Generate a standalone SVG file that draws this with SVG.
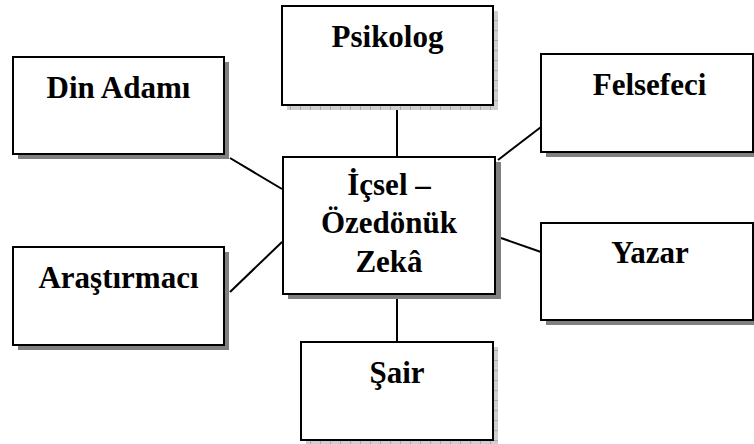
<svg xmlns="http://www.w3.org/2000/svg" width="754" height="444" viewBox="0 0 754 444">
  <defs>
    <!-- textured light-gray shadow used by the top and bottom boxes -->
    <pattern id="grain" width="10" height="10" patternUnits="userSpaceOnUse">
      <rect width="10" height="10" fill="#cfcfcf"/>
      <path d="M0 0.5H10M0.5 0V10" stroke="#a9a9a9" stroke-width="1"/>
    </pattern>
  </defs>

  <rect width="754" height="444" fill="#ffffff"/>

  <g id="connectors" stroke="#000000" stroke-width="2" fill="none">
    <line x1="397" y1="105" x2="397" y2="157"/>
    <line x1="230" y1="158" x2="282" y2="189"/>
    <line x1="230" y1="292" x2="282" y2="242"/>
    <line x1="498" y1="160" x2="541" y2="127"/>
    <line x1="501" y1="238" x2="541" y2="252"/>
    <line x1="397" y1="294" x2="397" y2="342"/>
  </g>

  <g style="font-family: 'Liberation Serif', 'Times New Roman', Times, serif; font-weight: bold; font-size: 31px;" text-anchor="middle" fill="#000000">
    <g id="psikolog">
      <path d="M493 11H498V110H287V105H493Z" fill="url(#grain)"/>
      <rect x="282" y="6" width="211" height="99" fill="#ffffff" stroke="#000000" stroke-width="2"/>
      <text x="387.5" y="47">Psikolog</text>
    </g>

    <g id="din-adami">
      <path d="M224 62H229V159H18V154H224Z" fill="#808080"/>
      <rect x="13" y="57" width="211" height="97" fill="#ffffff" stroke="#000000" stroke-width="2"/>
      <text x="118.5" y="98">Din Adamı</text>
    </g>

    <g id="felsefeci">
      <path d="M546 152H758V157H546Z" fill="#808080"/>
      <rect x="541" y="54" width="212" height="98" fill="#ffffff" stroke="#000000" stroke-width="2"/>
      <text x="649.5" y="95">Felsefeci</text>
    </g>

    <g id="icsel-ozedonuk-zeka">
      <path d="M495 162H501V299H288V294H495Z" fill="#808080"/>
      <rect x="283" y="157" width="212" height="137" fill="#ffffff" stroke="#000000" stroke-width="2"/>
      <text x="389" y="195">İçsel –</text>
      <text x="389" y="233">Özedönük</text>
      <text x="389" y="272">Zekâ</text>
    </g>

    <g id="yazar">
      <path d="M546 320H758V325H546Z" fill="#808080"/>
      <rect x="541" y="223" width="212" height="97" fill="#ffffff" stroke="#000000" stroke-width="2"/>
      <text x="650" y="263">Yazar</text>
    </g>

    <g id="arastirmaci">
      <path d="M224 252H229V350H18V345H224Z" fill="#808080"/>
      <rect x="13" y="247" width="211" height="98" fill="#ffffff" stroke="#000000" stroke-width="2"/>
      <text x="118.5" y="288">Araştırmacı</text>
    </g>

    <g id="sair">
      <path d="M493 347H498V445H306V440H493Z" fill="url(#grain)"/>
      <rect x="301" y="342" width="192" height="98" fill="#ffffff" stroke="#000000" stroke-width="2"/>
      <text x="397" y="383">Şair</text>
    </g>
  </g>
</svg>
